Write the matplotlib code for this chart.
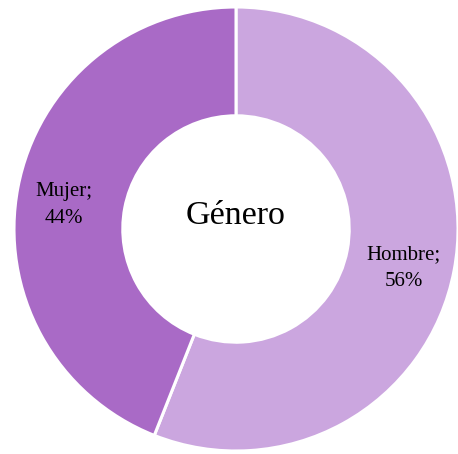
import matplotlib
matplotlib.use("Agg")
import matplotlib.pyplot as plt

categories = ["Hombre", "Mujer"]
values = [56, 44]
colors = ["#CBA6DF", "#A96AC6"]
center_title = "Género"

plt.rcParams['font.family'] = ['Liberation Serif', 'DejaVu Serif']

fig = plt.figure(figsize=(4.58, 4.54), dpi=100)
ax = fig.add_axes([14/458, 3/454, 444/458, 444/454])
labels = [f"{c};\n{v}%" for c, v in zip(categories, values)]
wedges, texts = ax.pie(values, colors=colors, startangle=90, counterclock=False,
                       radius=1.0, labels=labels, labeldistance=0.77,
                       wedgeprops=dict(width=0.49, edgecolor="white", linewidth=2.2),
                       textprops=dict(fontsize=15, color="black", ha="center",
                                      va="center", linespacing=1.55))
for t in texts:
    t.set_horizontalalignment("center")
    x, y = t.get_position()
    t.set_position((x * 1.0, y - 0.03))
texts[1].set_position((texts[1].get_position()[0] - 0.02, texts[1].get_position()[1] - 0.005))
ax.text(0, 0.058, center_title, ha="center", va="center", fontsize=24.5)
ax.set_xlim(-1, 1)
ax.set_ylim(-1, 1)
ax.set_aspect("equal")
ax.axis("off")
fig.savefig("out.png", dpi=100)
